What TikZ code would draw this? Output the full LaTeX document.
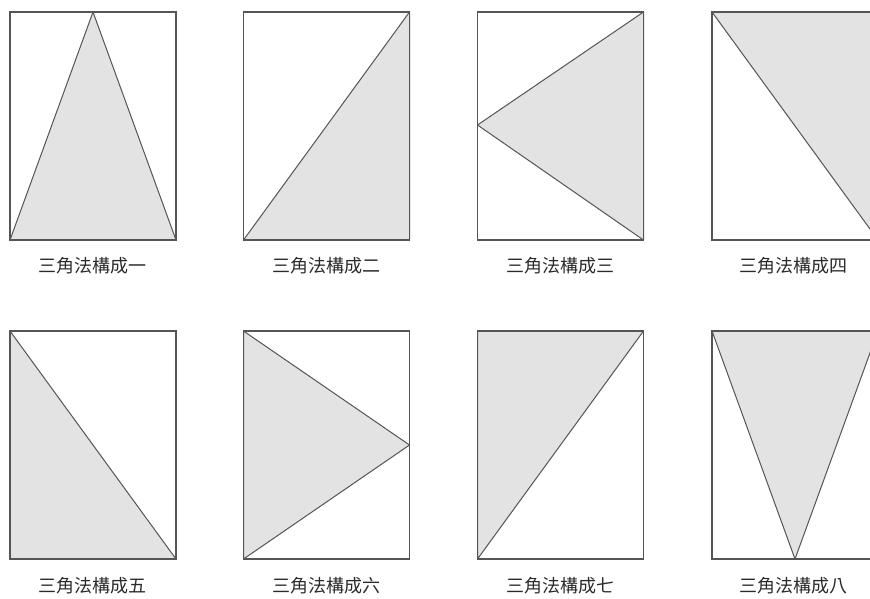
\documentclass[tikz,border=0pt]{standalone}
\usepackage{fontspec}
\newfontfamily\cjk{Noto Sans CJK TC}
\definecolor{edge}{HTML}{555555}
\definecolor{shade}{HTML}{E3E3E3}
\definecolor{txt}{HTML}{2A2A2A}
\tikzset{
  frame/.style={draw=edge, line width=1.2pt},
  tri/.style={fill=shade, draw=edge, line width=1.0pt, line join=round},
  caption/.style={font=\cjk\fontsize{18}{18}\selectfont, text=txt, inner sep=0pt}
}
\begin{document}
\begin{tikzpicture}[x=1pt,y=-1pt]
\useasboundingbox (0,0) rectangle (870,598);
\clip (0,0) rectangle (870,598);
\fill[white] (0,0) rectangle (870,598);
% column left edges: 10, 243.5, 477.5, 712 ; width 166
% row 1: top 12, bottom 240 ; row 2: top 331, bottom 559
\def\W{166}
% --- Row 1 ---
% 1
\begin{scope}[shift={(10,12)}]
  \filldraw[tri] (0,228) -- (83,0) -- (\W,228) -- cycle;
  \draw[frame] (0,0) rectangle (\W,228);
\end{scope}
% 2
\begin{scope}[shift={(243.5,12)}]
  \filldraw[tri] (0,228) -- (\W,0) -- (\W,228) -- cycle;
  \draw[frame] (0,0) rectangle (\W,228);
\end{scope}
% 3
\begin{scope}[shift={(477.5,12)}]
  \filldraw[tri] (0,113) -- (\W,0) -- (\W,228) -- cycle;
  \draw[frame] (0,0) rectangle (\W,228);
\end{scope}
% 4
\begin{scope}[shift={(712,12)}]
  \filldraw[tri] (0,0) -- (\W,0) -- (\W,228) -- cycle;
  \draw[frame] (0,0) rectangle (\W,228);
\end{scope}
% --- Row 2 ---
% 5
\begin{scope}[shift={(10,331)}]
  \filldraw[tri] (0,0) -- (0,228) -- (\W,228) -- cycle;
  \draw[frame] (0,0) rectangle (\W,228);
\end{scope}
% 6
\begin{scope}[shift={(243.5,331)}]
  \filldraw[tri] (0,0) -- (\W,114) -- (0,228) -- cycle;
  \draw[frame] (0,0) rectangle (\W,228);
\end{scope}
% 7
\begin{scope}[shift={(477.5,331)}]
  \filldraw[tri] (0,0) -- (\W,0) -- (0,228) -- cycle;
  \draw[frame] (0,0) rectangle (\W,228);
\end{scope}
% 8
\begin{scope}[shift={(712,331)}]
  \filldraw[tri] (0,0) -- (\W,0) -- (83,228) -- cycle;
  \draw[frame] (0,0) rectangle (\W,228);
\end{scope}
% --- Captions ---
\node[caption] (c1) at (92,266) {三角法構成一};
\node[caption] (c2) at (326,266) {三角法構成二};
\node[caption] (c3) at (560,266) {三角法構成三};
\node[caption] (c4) at (793,266) {三角法構成四};
\node[caption] (c5) at (92,586) {三角法構成五};
\node[caption] (c6) at (326,586) {三角法構成六};
\node[caption] (c7) at (560,586) {三角法構成七};
\node[caption] (c8) at (793,586) {三角法構成八};
\end{tikzpicture}
\end{document}
